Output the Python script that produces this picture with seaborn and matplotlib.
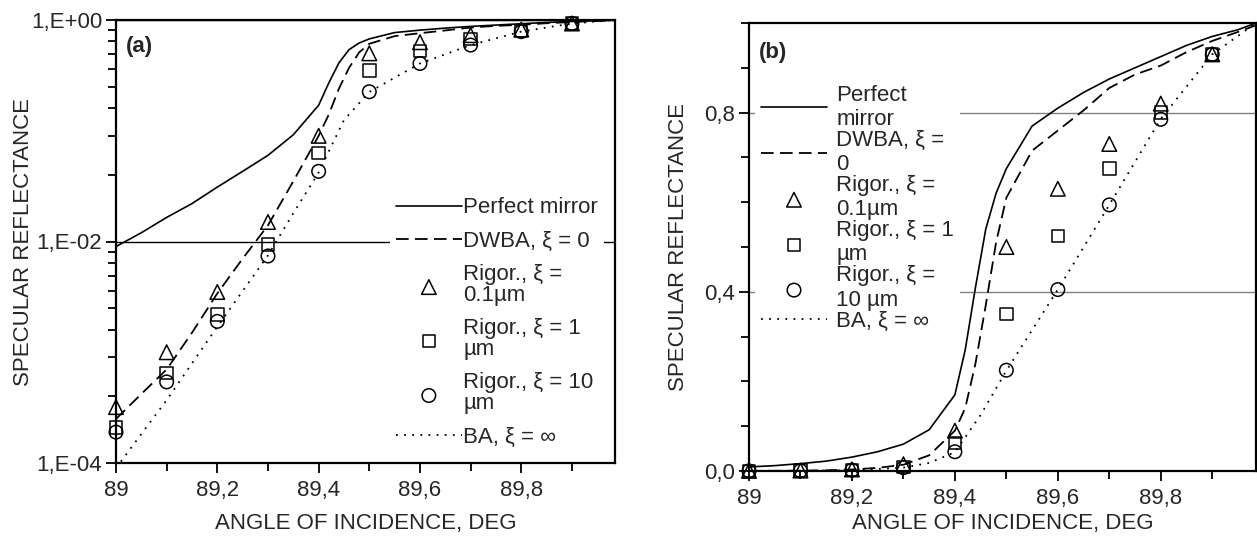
import numpy as np
import pandas as pd
import matplotlib
matplotlib.use("Agg")
import matplotlib.pyplot as plt
import matplotlib.ticker as mticker
import seaborn as sns

# ---- data ----
# angles where the rigorous calculation was done (markers)
angles_pts = [89.0, 89.1, 89.2, 89.3, 89.4, 89.5, 89.6, 89.7, 89.8, 89.9]
rigor_01um = [3.2e-4, 1.0e-3, 3.5e-3, 0.015, 0.09, 0.50, 0.63, 0.73, 0.82, 0.93]
rigor_1um = [2.1e-4, 6.5e-4, 2.2e-3, 9.4e-3, 0.063, 0.35, 0.525, 0.675, 0.80, 0.93]
rigor_10um = [1.9e-4, 5.4e-4, 1.9e-3, 7.4e-3, 0.043, 0.225, 0.405, 0.594, 0.785, 0.93]

# continuous curves
angles_curve = [89.0, 89.05, 89.1, 89.15, 89.2, 89.25, 89.3, 89.35, 89.4, 89.42,
                89.44, 89.46, 89.48, 89.5, 89.55, 89.6, 89.65, 89.7, 89.75, 89.8,
                89.85, 89.9, 89.95, 89.985]
perfect_mirror = [0.0090, 0.012, 0.0165, 0.022, 0.031, 0.043, 0.060, 0.092, 0.17, 0.27,
                  0.41, 0.54, 0.62, 0.675, 0.77, 0.81, 0.845, 0.875, 0.90, 0.925,
                  0.95, 0.97, 0.985, 1.0]
dwba = [2.5e-4, 4.2e-4, 7.0e-4, 1.5e-3, 3.4e-3, 7.0e-3, 0.014, 0.035, 0.09, 0.14,
        0.24, 0.37, 0.51, 0.61, 0.715, 0.76, 0.805, 0.855, 0.885, 0.905,
        0.935, 0.96, 0.98, 0.995]

angles_ba = [89.0, 89.1, 89.2, 89.3, 89.35, 89.4, 89.45, 89.5, 89.6, 89.7, 89.8, 89.9, 89.985]
ba = [9e-5, 3.7e-4, 1.7e-3, 7.5e-3, 0.018, 0.042, 0.125, 0.224, 0.405, 0.594, 0.786, 0.93, 1.0]

labels_a = ["Perfect mirror", "DWBA, ξ = 0", "Rigor., ξ =\n0.1µm",
            "Rigor., ξ = 1\nµm", "Rigor., ξ = 10\nµm", "BA, ξ = ∞"]
labels_b = ["Perfect\nmirror", "DWBA, ξ =\n0", "Rigor., ξ =\n0.1µm",
            "Rigor., ξ = 1\nµm", "Rigor., ξ =\n10 µm", "BA, ξ = ∞"]

curves = pd.DataFrame({"angle": angles_curve, "mirror": perfect_mirror, "dwba": dwba})
pts = pd.DataFrame({"angle": angles_pts, "r01": rigor_01um, "r1": rigor_1um, "r10": rigor_10um})
ba_df = pd.DataFrame({"angle": angles_ba, "ba": ba})

FS = 16

sns.set_theme(style="ticks")
plt.rcParams["font.family"] = ["Liberation Sans", "DejaVu Sans"]
plt.rcParams["font.size"] = FS

fig = plt.figure(figsize=(12.57, 5.4), dpi=100)
ax_a = fig.add_axes([116 / 1257, 1 - 463 / 540, 499 / 1257, 443 / 540])
ax_b = fig.add_axes([749 / 1257, 1 - 471 / 540, 507 / 1257, 448 / 540])


def draw_panel(ax, xlabelpad):
    sns.lineplot(data=curves, x="angle", y="mirror", ax=ax, color="black", lw=1.2,
                 label="mirror", sort=False)
    sns.lineplot(data=curves, x="angle", y="dwba", ax=ax, color="black", lw=1.3,
                 linestyle=(0, (7, 3.5)), label="dwba", sort=False)
    sns.scatterplot(data=pts, x="angle", y="r01", ax=ax, marker="^", s=110,
                    facecolor="none", edgecolor="black", linewidth=1.1,
                    label="r01", clip_on=False, zorder=3)
    sns.scatterplot(data=pts, x="angle", y="r1", ax=ax, marker="s", s=80,
                    facecolor="none", edgecolor="black", linewidth=1.1,
                    label="r1", clip_on=False, zorder=3)
    sns.scatterplot(data=pts, x="angle", y="r10", ax=ax, marker="o", s=95,
                    facecolor="none", edgecolor="black", linewidth=1.1,
                    label="r10", clip_on=False, zorder=3)
    sns.lineplot(data=ba_df, x="angle", y="ba", ax=ax, color="black", lw=1.3,
                 linestyle=(0, (1, 3.5)), label="ba", sort=False)

    ax.set_xlim(89, 89.985)
    ax.xaxis.set_major_locator(mticker.MultipleLocator(0.2))
    ax.xaxis.set_minor_locator(mticker.MultipleLocator(0.1))
    ax.xaxis.set_major_formatter(
        mticker.FuncFormatter(lambda v, p: f"{round(v, 1):g}".replace(".", ",")))
    ax.set_xlabel("ANGLE OF INCIDENCE, DEG", fontsize=FS, labelpad=xlabelpad)
    ax.tick_params(which="both", direction="out", width=1.3, labelsize=FS, color="black")
    ax.tick_params(which="major", length=7, pad=5)
    ax.tick_params(which="minor", length=6)
    ax.tick_params(axis="y", which="major", pad=3)
    for sp in ax.spines.values():
        sp.set_visible(True)
        sp.set_color("black")
        sp.set_linewidth(1.6)


draw_panel(ax_a, 9)
draw_panel(ax_b, 3)

# panel (a): log scale
ax_a.set_yscale("log")
ax_a.set_ylim(1e-4, 1)
ax_a.yaxis.set_major_locator(mticker.FixedLocator([1e-4, 1e-2, 1]))
ax_a.yaxis.set_minor_locator(mticker.FixedLocator(
    [b * k ** 2 for b in (1e-4, 1e-2) for k in range(2, 10)]))
ax_a.yaxis.set_minor_formatter(mticker.NullFormatter())
ax_a.yaxis.set_major_formatter(
    mticker.FuncFormatter(lambda v, p: "1,E" + f"{int(round(np.log10(v))):+03d}"))
ax_a.yaxis.grid(True, which="major", color="black", lw=1.0)
ax_a.set_ylabel("SPECULAR REFLECTANCE", fontsize=FS)
ax_a.yaxis.set_label_coords(-0.165, 0.5)
ax_a.text(0.02, 0.94, "(a)", transform=ax_a.transAxes, fontsize=FS,
          fontweight="bold", va="center", ha="left")

# panel (b): linear scale
ax_b.set_ylim(0, 1.0)
ax_b.yaxis.set_major_locator(mticker.MultipleLocator(0.4))
ax_b.yaxis.set_minor_locator(mticker.MultipleLocator(0.1))
ax_b.yaxis.set_major_formatter(mticker.FuncFormatter(lambda v, p: f"{v:.1f}".replace(".", ",")))
ax_b.yaxis.grid(True, which="major", color="#808080", lw=1.0)
ax_b.set_ylabel("SPECULAR REFLECTANCE", fontsize=FS)
ax_b.yaxis.set_label_coords(-0.118, 0.5)
ax_b.text(0.02, 0.935, "(b)", transform=ax_b.transAxes, fontsize=FS,
          fontweight="bold", va="center", ha="left")

legend_opts = [
    (ax_a, labels_a, (0.549, 0.612), 0.05, 0.55, 1.0),
    (ax_b, labels_b, (0.012, 0.875), 0.4, 0.0, 1.2),
]
for ax, labels, anchor, tpad, lspace, linesp in legend_opts:
    handles, _ = ax.get_legend_handles_labels()
    leg = ax.legend(handles, labels, loc="upper left", bbox_to_anchor=anchor,
                    fontsize=FS, frameon=True, fancybox=False, framealpha=1,
                    facecolor="white", edgecolor="none", handlelength=3.0,
                    handletextpad=tpad, borderpad=0.25, borderaxespad=0,
                    labelspacing=lspace)
    for t in leg.get_texts():
        t.set_linespacing(linesp)

fig.savefig("out.png", dpi=100)
